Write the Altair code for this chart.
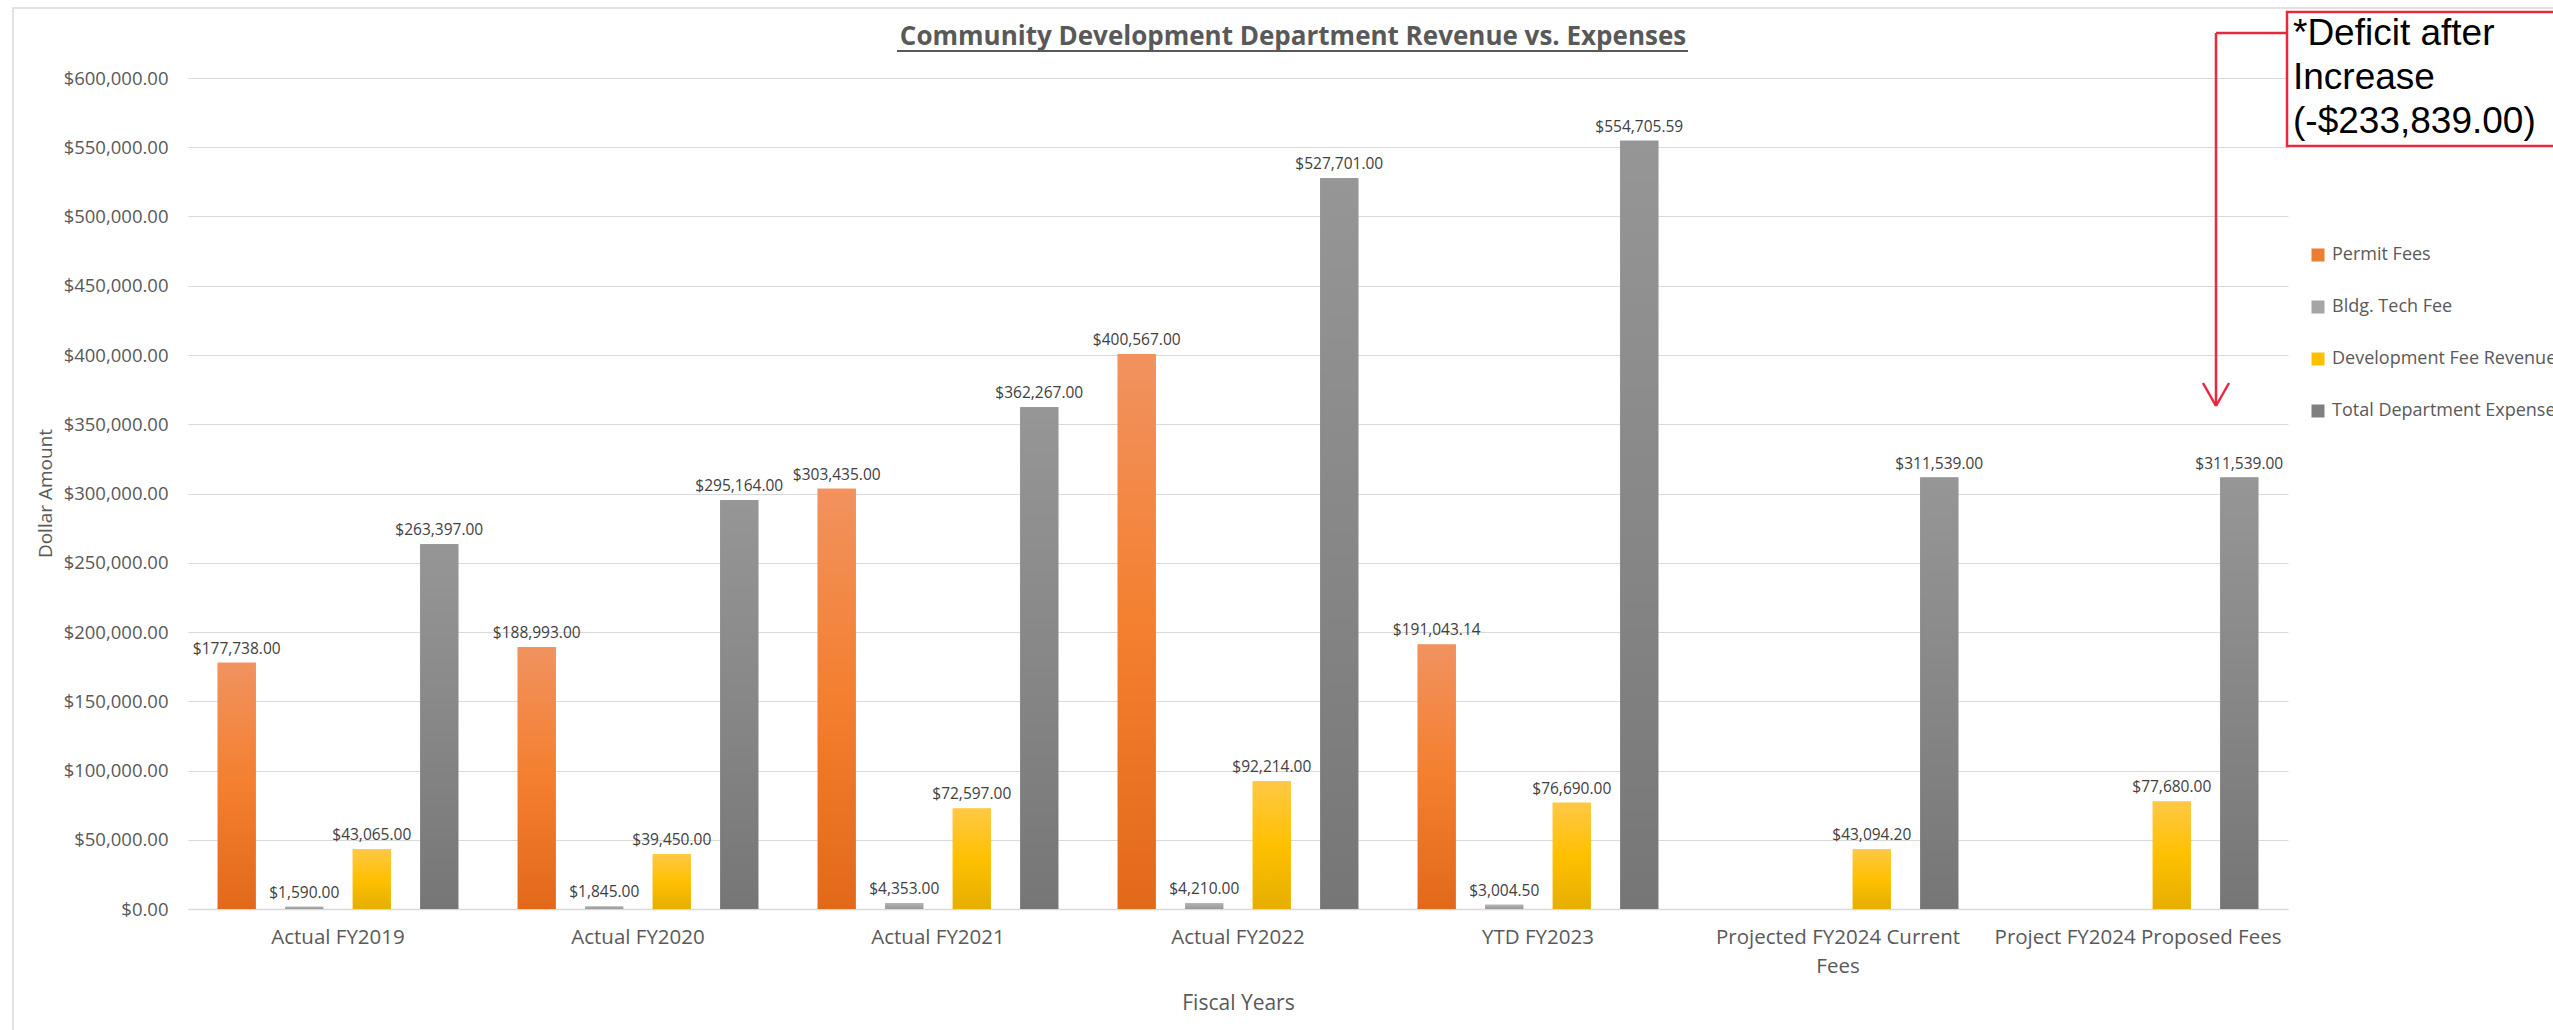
import altair as alt
import pandas as pd

# ---------------- data ----------------
categories = [
    "Actual FY2019",
    "Actual FY2020",
    "Actual FY2021",
    "Actual FY2022",
    "YTD FY2023",
    "Projected  FY2024 Current Fees",
    "Project FY2024 Proposed Fees",
]
series_names = [
    "Permit Fees",
    "Bldg. Tech Fee",
    "Development Fee Revenue",
    "Total Department Expenses",
]
permit_fees = [177738.00, 188993.00, 303435.00, 400567.00, 191043.14, None, None]
bldg_tech_fee = [1590.00, 1845.00, 4353.00, 4210.00, 3004.50, None, None]
dev_fee_revenue = [43065.00, 39450.00, 72597.00, 92214.00, 76690.00, 43094.20, 77680.00]
total_expenses = [263397.00, 295164.00, 362267.00, 527701.00, 554705.59, 311539.00, 311539.00]
y_ticks = [0, 50000, 100000, 150000, 200000, 250000, 300000, 350000,
           400000, 450000, 500000, 550000, 600000]

title_text = "Community Development Department Revenue vs. Expenses"
annotation_lines = ["*Deficit after", "Increase", "(-$233,839.00)"]

# ---------------- styles ----------------
legend_colors = ["#ED7D31", "#A5A5A5", "#FFC000", "#7F7F7F"]
gradient_stops = [
    [("#F1925F", 0), ("#F47F2E", 0.5), ("#E2691A", 1)],
    [("#B4B4B4", 0), ("#A5A5A5", 0.5), ("#989898", 1)],
    [("#FFC845", 0), ("#FFC000", 0.5), ("#E5AF00", 1)],
    [("#969696", 0), ("#878787", 0.5), ("#767676", 1)],
]
TEXT_GRAY = "#595959"
RED = "#E8283F"

rows = []
for s, vals in zip(series_names, [permit_fees, bldg_tech_fee, dev_fee_revenue, total_expenses]):
    for c, v in zip(categories, vals):
        if v is not None:
            rows.append({"year": c, "series": s, "value": v})
df = pd.DataFrame(rows)
one = pd.DataFrame({"k": [0]})

x_enc = alt.X(
    "year:N",
    sort=categories,
    scale=alt.Scale(domain=categories, paddingInner=0, paddingOuter=0),
    title="Fiscal Years",
    axis=alt.Axis(
        labelExpr="datum.value == 'Projected  FY2024 Current Fees' ? ['Projected  FY2024 Current', 'Fees'] : datum.label",
        labelAngle=0,
        labelFontSize=20.5,
        labelColor=TEXT_GRAY,
        labelPadding=18,
        labelLimit=400,
        labelLineHeight=29,
        ticks=False,
        domainColor="#D9D9D9",
        domainWidth=1.5,
        grid=False,
        titleFontSize=21,
        titleFontWeight="normal",
        titleColor=TEXT_GRAY,
        titleY=94,
        titleBaseline="middle",
    ),
)
xoff = alt.XOffset(
    "series:N",
    sort=series_names,
    scale=alt.Scale(domain=series_names, paddingInner=0.437, paddingOuter=0.44),
)
y_enc = alt.Y(
    "value:Q",
    stack=None,
    scale=alt.Scale(domain=[0, 600000], nice=False),
    title="Dollar Amount",
    axis=alt.Axis(
        values=y_ticks,
        format="$,.2f",
        labelFontSize=18.5,
        labelColor=TEXT_GRAY,
        labelPadding=20,
        ticks=False,
        domain=False,
        gridColor="#D9D9D9",
        gridWidth=1.2,
        titleFontSize=19,
        titleFontWeight="normal",
        titleColor=TEXT_GRAY,
        titleX=-143,
        titleY=415,
        titleAngle=270,
        titleBaseline="middle",
        titleAlign="center",
    ),
)

border = alt.Chart(one).mark_rect(fill="white", fillOpacity=0, stroke="#D9D9D9", strokeWidth=1.5).encode(
    x=alt.value(-175), x2=alt.value(2400), y=alt.value(-70), y2=alt.value(1000)
)

base_bars = alt.Chart(df).mark_bar().encode(
    x=x_enc,
    xOffset=xoff,
    y=y_enc,
    color=alt.Color(
        "series:N",
        sort=series_names,
        scale=alt.Scale(domain=series_names, range=legend_colors),
        legend=alt.Legend(
            title=None,
            orient="none",
            legendX=2121,
            legendY=168,
            symbolType="square",
            symbolSize=169,
            symbolStrokeWidth=0,
            labelFontSize=18,
            labelColor=TEXT_GRAY,
            labelOffset=5,
            labelLimit=1000,
            rowPadding=34,
            padding=0,
        ),
    ),
)

grad_layers = []
for s, stops in zip(series_names, gradient_stops):
    grad = alt.LinearGradient(
        gradient="linear",
        stops=[alt.GradientStop(color=c, offset=o) for c, o in stops],
        x1=0, x2=0, y1=0, y2=1,
    )
    grad_layers.append(
        alt.Chart(df[df["series"] == s]).mark_bar(fill=grad).encode(x=x_enc, xOffset=xoff, y=y_enc)
    )

labels = alt.Chart(df).mark_text(baseline="bottom", dy=-6, fontSize=15.5, color="#404040").encode(
    x=x_enc, xOffset=xoff, y=y_enc, text=alt.Text("value:Q", format="$,.2f")
)

title_mark = alt.Chart(one).mark_text(
    align="center", baseline="alphabetic", fontSize=26, fontWeight="bold", color=TEXT_GRAY
).encode(x=alt.value(1105), y=alt.value(-33), text=alt.value(title_text))
title_underline = alt.Chart(one).mark_rule(color=TEXT_GRAY, strokeWidth=2).encode(
    x=alt.value(709), x2=alt.value(1500), y=alt.value(-27)
)

ann_box = alt.Chart(one).mark_rect(fill="white", stroke=RED, strokeWidth=2.5).encode(
    x=alt.value(2099), x2=alt.value(2400), y=alt.value(-66), y2=alt.value(68)
)
ann_text = alt.Chart(one).mark_text(
    align="left", baseline="alphabetic", font="Liberation Sans", fontSize=37, lineHeight=44, color="black"
).encode(x=alt.value(2105), y=alt.value(-33), text=alt.value(annotation_lines))

arrow_h = alt.Chart(one).mark_rule(color=RED, strokeWidth=2.5).encode(
    x=alt.value(2099), x2=alt.value(2028), y=alt.value(-45), y2=alt.value(-45)
)
arrow_v = alt.Chart(one).mark_rule(color=RED, strokeWidth=2.5).encode(
    x=alt.value(2028), x2=alt.value(2028), y=alt.value(-45), y2=alt.value(328)
)
arrow_l = alt.Chart(one).mark_rule(color=RED, strokeWidth=2.5).encode(
    x=alt.value(2015), x2=alt.value(2028), y=alt.value(305), y2=alt.value(328)
)
arrow_r = alt.Chart(one).mark_rule(color=RED, strokeWidth=2.5).encode(
    x=alt.value(2041), x2=alt.value(2028), y=alt.value(305), y2=alt.value(328)
)

chart = alt.layer(
    border, base_bars, *grad_layers, labels,
    title_mark, title_underline,
    arrow_h, arrow_v, arrow_l, arrow_r, ann_box, ann_text,
).properties(
    width=2100,
    height=831,
    autosize=alt.AutoSizeParams(type="none"),
    padding={"left": 188, "top": 78, "right": 265, "bottom": 121},
    background="white",
).configure(font="Open Sans").configure_view(stroke="transparent")

chart.save("out.html", embed_options={"renderer": "svg", "actions": False})
